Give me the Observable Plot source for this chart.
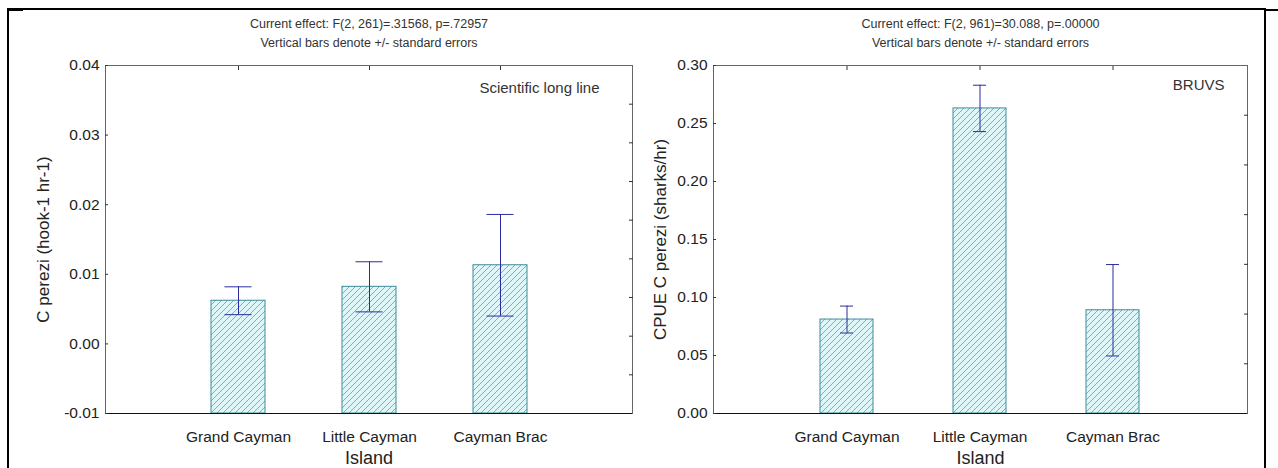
<!DOCTYPE html>
<html>
<head>
<meta charset="utf-8">
<script src="https://cdn.jsdelivr.net/npm/d3@7"></script>
<script src="https://cdn.jsdelivr.net/npm/@observablehq/plot@0.6"></script>
<style>
  html, body { margin: 0; padding: 0; background: #fff; }
  #wrap { position: relative; width: 1278px; height: 468px; background: #fff; overflow: hidden; font-family: "Liberation Sans", Arial, sans-serif; }
  .panel { position: absolute; top: 0; }
  .bline { position: absolute; background: #000; }
</style>
</head>
<body>
<div id="wrap">
  <div class="bline" style="left:8px; top:8px; width:1258px; height:2px;"></div>
  <div class="bline" style="left:7px; top:8px; width:2px; height:460px;"></div>
  <div class="bline" style="left:7px; top:9px; width:16px; height:2px;"></div>
  <div class="bline" style="left:1264px; top:9px; width:2px; height:459px;"></div>
  <div class="bline" style="left:1264px; top:9px; width:14px; height:2px;"></div>
  <div class="panel" id="left" style="left:0px;"></div>
  <div class="panel" id="right" style="left:640px;"></div>
</div>
<script>
// ---- data ----
const islands = ["Grand Cayman", "Little Cayman", "Cayman Brac"];

const longlineMean = [0.0062, 0.0082, 0.0113];
const longlineSE   = [0.0020, 0.0036, 0.0073];
const longlineDomain = [-0.01, 0.04];
const longlineTicks = [-0.01, 0.00, 0.01, 0.02, 0.03, 0.04];
const longlineMinorTicks = [-0.00444, 0.00111, 0.00667, 0.01222, 0.01778, 0.02333, 0.02889, 0.03444];
const longlineTitle1 = "Current effect: F(2, 261)=.31568, p=.72957";
const longlineYLabel = "C perezi (hook-1 hr-1)";
const longlineNote = "Scientific long line";

const bruvsMean = [0.081, 0.263, 0.089];
const bruvsSE   = [0.0116, 0.020, 0.0394];
const bruvsDomain = [0.00, 0.30];
const bruvsTicks = [0.00, 0.05, 0.10, 0.15, 0.20, 0.25, 0.30];
const bruvsMinorTicks = [0.04286, 0.08571, 0.12857, 0.17143, 0.21429, 0.25714];
const bruvsTitle1 = "Current effect: F(2, 961)=30.088, p=.00000";
const bruvsYLabel = "CPUE C perezi (sharks/hr)";
const bruvsNote = "BRUVS";

const title2 = "Vertical bars denote +/- standard errors";
const xLabel = "Island";

// ---- drawing ----
const FONT = "'Liberation Sans', Arial, sans-serif";

function panel(opts) {
  const rows = islands.map((island, i) => ({island, mean: opts.mean[i], se: opts.se[i]}));
  const base = opts.domain[0];
  const pid = opts.id + "Hatch";
  const svg = Plot.plot({
    width: opts.width,
    height: 468,
    marginLeft: opts.marginLeft,
    marginRight: opts.marginRight,
    marginTop: 65,
    marginBottom: 55,
    style: {fontFamily: FONT, background: "transparent", color: "#222"},
    x: {domain: islands, paddingInner: opts.pInner, paddingOuter: opts.pOuter},
    y: {domain: opts.domain},
    marks: [
      Plot.barY(rows, {x: "island", y1: () => base, y2: "mean", fill: `url(#${pid})`, stroke: "#3d8b9b", strokeWidth: 1}),
      Plot.ruleX(rows, {x: "island", y1: d => d.mean - d.se, y2: d => d.mean + d.se, stroke: "#2b2b9e", strokeWidth: 1}),
      Plot.tickY(rows, {x: "island", y: d => d.mean + d.se, stroke: "#2b2b9e", strokeWidth: 1, inset: opts.capInset}),
      Plot.tickY(rows, {x: "island", y: d => d.mean - d.se, stroke: "#2b2b9e", strokeWidth: 1, inset: opts.capInset}),
      Plot.frame({stroke: "#666", strokeWidth: 1}),
      Plot.ruleY([base], {stroke: "#111", strokeWidth: 1}),
      Plot.axisY(opts.ticks, {anchor: "left", tickSize: 0, tickPadding: 6, tickFormat: d => d.toFixed(2), fontSize: 15.5, fill: "#222", label: null}),
      Plot.axisY(opts.ticks, {anchor: "left", tickSize: -3, tickFormat: () => "", label: null, stroke: "#333"}),
      Plot.axisY(opts.minor, {anchor: "right", tickSize: -4, tickFormat: () => "", label: null, stroke: "#333"}),
      Plot.axisX({anchor: "top", tickSize: -4, tickFormat: () => "", label: null, stroke: "#333"}),
      Plot.axisX({anchor: "bottom", tickSize: 0, tickPadding: 17, fontSize: 15.5, fill: "#222", label: null}),
      Plot.text([opts.title1], {frameAnchor: "top", dy: -42, lineAnchor: "middle", textAnchor: "middle", fontSize: 12.5, fill: "#333"}),
      Plot.text([title2], {frameAnchor: "top", dy: -23, lineAnchor: "middle", textAnchor: "middle", fontSize: 12.5, fill: "#333"}),
      Plot.text([opts.ylabel], {frameAnchor: "left", dx: opts.ylabelDx, rotate: -90, lineAnchor: "middle", textAnchor: "middle", fontSize: 17, fill: "#222"}),
      Plot.text([xLabel], {frameAnchor: "bottom", dy: 45, lineAnchor: "middle", textAnchor: "middle", fontSize: 18, fill: "#222"}),
      Plot.text([opts.note], {frameAnchor: "top-right", dx: opts.noteDx, dy: opts.noteDy, lineAnchor: "middle", textAnchor: "end", fontSize: 15, fill: "#333"})
    ]
  });
  const defs = document.createElementNS("http://www.w3.org/2000/svg", "defs");
  defs.innerHTML = `<pattern id="${pid}" patternUnits="userSpaceOnUse" width="6" height="6">
      <rect width="6" height="6" fill="#dff6f9"/>
      <path d="M-1,1 l2,-2 M0,6 l6,-6 M5,7 l2,-2" stroke="#5599aa" stroke-width="0.75"/>
    </pattern>`;
  svg.insertBefore(defs, svg.firstChild);
  return svg;
}

document.getElementById("left").appendChild(panel({
  id: "ll", width: 640, marginLeft: 105, marginRight: 8,
  pInner: 0.59, pOuter: 0.795, capInset: 13.5,
  mean: longlineMean, se: longlineSE, domain: longlineDomain,
  ticks: longlineTicks, minor: longlineMinorTicks,
  title1: longlineTitle1, ylabel: longlineYLabel, ylabelDx: -62,
  note: longlineNote, noteDx: -33, noteDy: 23
}));

document.getElementById("right").appendChild(panel({
  id: "bv", width: 638, marginLeft: 73, marginRight: 31,
  pInner: 0.6, pOuter: 0.8, capInset: 20,
  mean: bruvsMean, se: bruvsSE, domain: bruvsDomain,
  ticks: bruvsTicks, minor: bruvsMinorTicks,
  title1: bruvsTitle1, ylabel: bruvsYLabel, ylabelDx: -53,
  note: bruvsNote, noteDx: -23, noteDy: 20
}));
</script>
</body>
</html>
